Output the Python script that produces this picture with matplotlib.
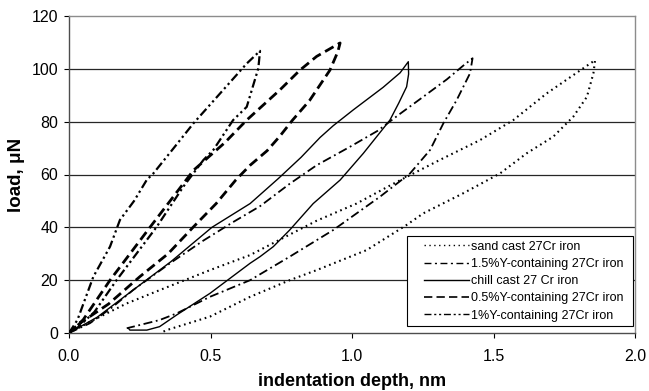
import matplotlib
matplotlib.use("Agg")
import matplotlib.pyplot as plt
from matplotlib.lines import Line2D
from matplotlib.legend_handler import HandlerLine2D

plt.rcParams['font.family'] = ['Liberation Sans', 'DejaVu Sans']

# ---- data (indentation depth in nm, load in uN); each curve = loading then unloading branch
sand_depth = [0, 0.086, 0.204, 0.322, 0.498, 0.64, 0.757, 0.875, 1.016, 1.146, 1.31, 1.452, 1.57, 1.688, 1.817, 1.859,
              1.853, 1.83, 1.782, 1.711, 1.617, 1.523, 1.393, 1.252, 1.193, 1.052, 0.875, 0.78, 0.64, 0.498, 0.345, 0.333]
sand_load = [0, 4.9, 11.2, 16.3, 23.8, 29.5, 36.0, 42.5, 49.0, 56.5, 65.5, 73.0, 80.6, 90.7, 100.2, 103.3,
             98.3, 89.4, 81.9, 74.3, 68.0, 60.4, 52.9, 45.3, 40.9, 31.4, 23.8, 20.0, 13.7, 6.2, 1.1, 0.5]

y15_depth = [0, 0.074, 0.15, 0.227, 0.357, 0.475, 0.58, 0.675, 0.78, 0.875, 0.993, 1.09, 1.17, 1.24, 1.335, 1.393, 1.426,
             1.417, 1.37, 1.323, 1.276, 1.205, 1.099, 0.934, 0.78, 0.64, 0.498, 0.38, 0.32, 0.227, 0.204]
y15_load = [0, 3.7, 9.5, 16.3, 26.4, 35.0, 42.0, 48.0, 56.5, 63.5, 70.5, 76.5, 83.0, 88.5, 96.0, 101.2, 104.0,
            98.3, 88.2, 79.4, 69.3, 60.4, 51.6, 39.0, 28.9, 20.0, 13.7, 7.4, 4.9, 2.4, 1.8]

chill_depth = [0, 0.1, 0.227, 0.36, 0.505, 0.64, 0.74, 0.82, 0.887, 0.934, 1.005, 1.11, 1.17, 1.199,
               1.20, 1.193, 1.165, 1.134, 1.04, 0.958, 0.863, 0.78, 0.722, 0.675, 0.64, 0.498, 0.38, 0.32, 0.275, 0.215, 0.21]
chill_load = [0, 6.0, 16.3, 27.0, 40.0, 49.0, 58.5, 66.5, 74.0, 78.5, 84.5, 93.0, 98.5, 102.7,
              98.0, 93.2, 87.0, 80.6, 68.0, 57.9, 49.0, 39.0, 32.7, 28.9, 26.4, 15.0, 6.8, 2.4, 1.1, 1.1, 1.8]

y05_depth = [0, 0.05, 0.145, 0.286, 0.44, 0.55, 0.628, 0.745, 0.816, 0.875, 0.958,
             0.95, 0.922, 0.85, 0.79, 0.745, 0.70, 0.64, 0.59, 0.52, 0.44, 0.35, 0.25, 0.14, 0.04, 0]
y05_load = [0, 5.0, 20.0, 40.0, 61.6, 72.0, 80.6, 92.0, 99.5, 104.7, 109.8,
            106.5, 99.5, 88.0, 80.6, 74.5, 69.0, 63.5, 58.0, 49.0, 40.2, 30.0, 21.3, 11.0, 3.8, 0]

y1_depth = [0, 0.03, 0.086, 0.145, 0.18, 0.23, 0.275, 0.298, 0.37, 0.44, 0.534, 0.628, 0.675,
            0.669, 0.628, 0.58, 0.51, 0.475, 0.404, 0.31, 0.168, 0.09, 0.03, 0]
y1_load = [0, 5.0, 21.3, 32.7, 42.8, 50.0, 58.0, 60.4, 70.0, 79.4, 90.7, 102.0, 106.8,
           100.2, 85.6, 80.6, 69.3, 65.5, 55.4, 40.2, 20.0, 8.0, 2.0, 0]

labels = ["sand cast 27Cr iron", "1.5%Y-containing 27Cr iron", "chill cast 27 Cr iron",
          "0.5%Y-containing 27Cr iron", "1%Y-containing 27Cr iron"]
x_ticks = [0.0, 0.5, 1.0, 1.5, 2.0]
y_ticks = [0, 20, 40, 60, 80, 100, 120]

fig = plt.figure(figsize=(6.49, 3.91), dpi=100)
ax = fig.add_axes([69/649, 1-333/391, 566/649, 317/391])

styles = [
    dict(color='black', lw=1.5, linestyle=(0, (0.8, 1.8))),
    dict(color='black', lw=1.3, linestyle=(0, (5, 2, 1, 2))),
    dict(color='black', lw=1.0, linestyle='-'),
    dict(color='black', lw=2.0, linestyle=(0, (3.5, 1.8))),
    dict(color='black', lw=1.6, linestyle=(0, (4, 1.5, 1, 1.5, 1, 1.5))),
]
leg_styles = [
    dict(color='black', lw=1.0, linestyle=(0, (1, 2.5))),
    dict(color='black', lw=1.0, linestyle=(0, (5, 2.5, 1.5, 2.5))),
    dict(color='black', lw=1.0, linestyle='-'),
    dict(color='black', lw=1.2, linestyle=(0, (5, 2.5))),
    dict(color='black', lw=1.0, linestyle=(0, (5, 2, 1.5, 2, 1.5, 2))),
]
data = [(sand_depth, sand_load), (y15_depth, y15_load), (chill_depth, chill_load),
        (y05_depth, y05_load), (y1_depth, y1_load)]

for (d, l), st in zip(data, styles):
    ax.plot(d, l, zorder=3, **st)

ax.set_xlim(0, 2.0)
ax.set_ylim(0, 120)
ax.set_xticks(x_ticks)
ax.set_xticklabels([f"{v:.1f}" for v in x_ticks])
ax.set_yticks(y_ticks)
ax.tick_params(axis='both', direction='out', length=3.8, width=0.8, labelsize=11.5, colors='black')
ax.tick_params(axis='x', pad=8)
ax.tick_params(axis='y', pad=4)

for v in y_ticks[1:-1]:
    ax.axhline(v, color='0.15', lw=0.9, zorder=1)

for side in ['top', 'right']:
    ax.spines[side].set_color('0.55')
    ax.spines[side].set_linewidth(1.0)
ax.spines['left'].set_color('0.3')
ax.spines['bottom'].set_color('0.3')
ax.spines['left'].set_linewidth(1.0)
ax.spines['bottom'].set_linewidth(1.0)

ax.set_xlabel("indentation depth, nm", fontsize=13, fontweight='bold', labelpad=6)
ax.set_ylabel("load, \u03bcN", fontsize=13.5, fontweight='bold', labelpad=5)

handles = [Line2D([], [], **st) for st in leg_styles]
x0 = (407 - 69) / 566
w = (633 - 407) / 566
y0 = (333 - 326) / 317
leg = ax.legend(handles, labels, loc='lower left', bbox_to_anchor=(x0, y0, w, 0.3),
                bbox_transform=ax.transAxes, borderaxespad=0, fontsize=9, mode='expand',
                frameon=True, fancybox=False, edgecolor='black', framealpha=1,
                handlelength=4.6, handletextpad=0.15, labelspacing=0.42, borderpad=0.35,
                handler_map={Line2D: HandlerLine2D(xpad=1.0)})
leg.get_frame().set_linewidth(0.8)
leg.set_zorder(5)

fig.savefig("out.png", dpi=100)
